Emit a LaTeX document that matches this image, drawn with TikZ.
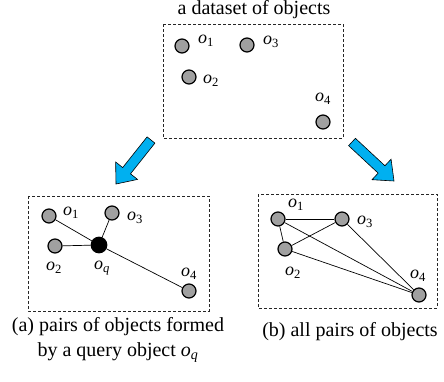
\documentclass[tikz,border=0pt]{standalone}
\usepackage{fontspec}
\setmainfont{Liberation Serif}
\usetikzlibrary{calc}
\definecolor{arrowblue}{RGB}{0,176,240}
\definecolor{objgray}{RGB}{160,160,160}
\newcommand\osub[1]{\textit{o}\textsubscript{#1}}
\newcommand\blockarrow[2]{%
  \fill[arrowblue,draw=black,line width=0.6pt,line join=miter]
    ($(#1)!5pt!90:(#2)$) --
    ($($(#2)!17pt!(#1)$)!5pt!90:(#2)$) --
    ($($(#2)!17pt!(#1)$)!14pt!90:(#2)$) --
    (#2) --
    ($($(#2)!17pt!(#1)$)!14pt!-90:(#2)$) --
    ($($(#2)!17pt!(#1)$)!5pt!-90:(#2)$) --
    ($(#1)!5pt!-90:(#2)$) -- cycle;}
\begin{document}
\begin{tikzpicture}[x=1pt,y=-1pt,
  obj/.style={circle,draw=black,fill=objgray,line width=1.2pt,minimum size=14pt,inner sep=0pt},
  qobj/.style={circle,draw=black,fill=black,line width=1.2pt,minimum size=15.5pt,inner sep=0pt},
  lbl/.style={inner sep=0pt,font=\fontsize{18}{20}\selectfont},
  captext/.style={inner sep=0pt,font=\fontsize{20}{25}\selectfont,align=center},
  box/.style={draw=black!85,dashed,line width=0.8pt,dash pattern=on 3pt off 2pt},
  edge/.style={draw=black,line width=0.7pt}]
\useasboundingbox (0,0) rectangle (444,381);
% top
\node[captext] (title) at (254,10) {a dataset of objects};
\draw[box] (163,24) rectangle (343,138);
\node[obj] (t1) at (182,46) {};
\node[obj] (t3) at (247,45) {};
\node[obj] (t2) at (189,77) {};
\node[obj] (t4) at (323,122) {};
\node[lbl] (tl1) at (206,41) {\osub{1}};
\node[lbl] (tl3) at (271,42) {\osub{3}};
\node[lbl] (tl2) at (211,81) {\osub{2}};
\node[lbl] (tl4) at (323,99) {\osub{4}};
% arrows
\coordinate (la) at (151,140);
\coordinate (lb) at (116,184);
\coordinate (ra) at (352,142);
\coordinate (rb) at (394,181);
\blockarrow{la}{lb}
\blockarrow{ra}{rb}
% left
\draw[box] (28,196) rectangle (209,311);
\node[qobj] (aq) at (99,245) {};
\node[obj] (a1) at (49,216) {};
\node[obj] (a3) at (112,213) {};
\node[obj] (a2) at (55,246) {};
\node[obj] (a4) at (189,291) {};
\draw[edge] (a1) -- (aq);
\draw[edge] (a3) -- (aq);
\draw[edge] (a2) -- (aq);
\draw[edge] (a4) -- (aq);
\node[lbl] (al1) at (71,213) {\osub{1}};
\node[lbl] (al3) at (135,218) {\osub{3}};
\node[lbl] (al2) at (54,268) {\osub{2}};
\node[lbl] (alq) at (102,268) {\osub{\textit{q}}};
\node[lbl] (al4) at (189,274) {\osub{4}};
\node[captext] (capa) at (118,340) {(a) pairs of objects formed\\by a query object \osub{\textit{q}}};
% right
\draw[box] (258,194) rectangle (437,308);
\node[obj] (b1) at (278,219) {};
\node[obj] (b3) at (342,219) {};
\node[obj] (b2) at (285,249) {};
\node[obj] (b4) at (419,295) {};
\draw[edge] (b1) -- (b3);
\draw[edge] (b1) -- (b2);
\draw[edge] (b1) -- (b4);
\draw[edge] (b2) -- (b3);
\draw[edge] (b2) -- (b4);
\draw[edge] (b3) -- (b4);
\node[lbl] (bl1) at (296,205) {\osub{1}};
\node[lbl] (bl3) at (365,222) {\osub{3}};
\node[lbl] (bl2) at (293,273) {\osub{2}};
\node[lbl] (bl4) at (418,276) {\osub{4}};
\node[captext] (capb) at (350,332) {(b) all pairs of objects};
\end{tikzpicture}
\end{document}
